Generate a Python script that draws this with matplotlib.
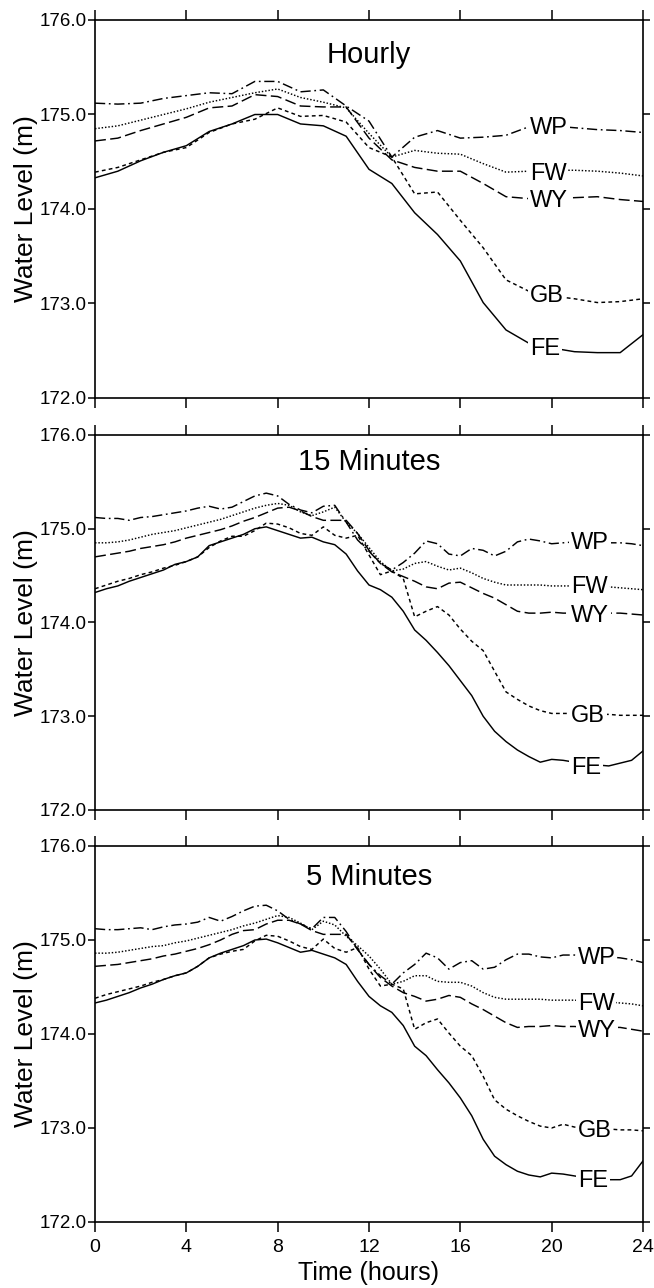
import numpy as np
import matplotlib
matplotlib.use("Agg")
import matplotlib.pyplot as plt

plt.rcParams['font.family'] = ['Liberation Sans', 'DejaVu Sans']

# ---------------- data ----------------
hours_hourly = list(range(0, 25))
fe_hourly = [174.33, 174.40, 174.51, 174.60, 174.67, 174.82, 174.90, 175.00, 175.00, 174.90,
             174.88, 174.77, 174.42, 174.27, 173.96, 173.73, 173.45, 173.01, 172.72, 172.58,
             172.53, 172.49, 172.48, 172.48, 172.67]
gb_hourly = [174.39, 174.44, 174.52, 174.60, 174.65, 174.81, 174.90, 174.95, 175.07, 174.98,
             174.99, 174.92, 174.65, 174.55, 174.16, 174.18, 173.88, 173.59, 173.25, 173.13,
             173.08, 173.05, 173.01, 173.02, 173.05]
wy_hourly = [174.72, 174.75, 174.83, 174.90, 174.97, 175.07, 175.09, 175.21, 175.19, 175.09,
             175.08, 175.08, 174.75, 174.52, 174.44, 174.40, 174.40, 174.27, 174.13, 174.11,
             174.11, 174.12, 174.13, 174.10, 174.08]
wp_hourly = [175.12, 175.11, 175.12, 175.17, 175.20, 175.23, 175.22, 175.35, 175.35, 175.24,
             175.26, 175.09, 174.93, 174.55, 174.76, 174.83, 174.75, 174.76, 174.78, 174.87,
             174.88, 174.86, 174.84, 174.83, 174.81]
fw_hourly = [174.85, 174.88, 174.94, 175.00, 175.06, 175.13, 175.18, 175.23, 175.27, 175.18,
             175.13, 175.07, 174.80, 174.55, 174.62, 174.59, 174.58, 174.48, 174.39, 174.40,
             174.41, 174.41, 174.40, 174.38, 174.35]

hours_half = [i * 0.5 for i in range(49)]

wp_15 = [175.12, 175.11, 175.11, 175.09, 175.12, 175.13, 175.15, 175.17, 175.19, 175.22,
         175.24, 175.21, 175.23, 175.29, 175.35, 175.38, 175.35, 175.26, 175.20, 175.17,
         175.24, 175.25, 175.07, 174.88, 174.76, 174.63, 174.56, 174.64, 174.74, 174.87,
         174.84, 174.73, 174.71, 174.79, 174.77, 174.71, 174.76, 174.86, 174.89, 174.87,
         174.84, 174.85, 174.86, 174.86, 174.86, 174.85, 174.85, 174.84, 174.82]
fw_15 = [174.85, 174.85, 174.86, 174.88, 174.91, 174.94, 174.96, 174.98, 175.01, 175.04,
         175.07, 175.10, 175.14, 175.18, 175.22, 175.25, 175.27, 175.25, 175.18, 175.14,
         175.18, 175.23, 175.07, 174.95, 174.80, 174.65, 174.55, 174.57, 174.63, 174.65,
         174.60, 174.56, 174.58, 174.53, 174.47, 174.43, 174.40, 174.40, 174.40, 174.40,
         174.39, 174.39, 174.39, 174.38, 174.38, 174.38, 174.37, 174.36, 174.35]
wy_15 = [174.70, 174.72, 174.74, 174.76, 174.79, 174.81, 174.83, 174.86, 174.90, 174.93,
         174.96, 174.99, 175.03, 175.08, 175.12, 175.17, 175.22, 175.23, 175.19, 175.13,
         175.09, 175.09, 175.09, 174.95, 174.77, 174.63, 174.54, 174.49, 174.44, 174.38,
         174.36, 174.42, 174.43, 174.37, 174.31, 174.26, 174.19, 174.12, 174.10, 174.10,
         174.11, 174.10, 174.10, 174.10, 174.10, 174.10, 174.10, 174.09, 174.08]
gb_15 = [174.36, 174.40, 174.44, 174.47, 174.51, 174.54, 174.58, 174.61, 174.65, 174.70,
         174.80, 174.87, 174.92, 174.92, 174.98, 175.06, 175.05, 175.01, 174.95, 174.93,
         175.02, 174.93, 174.90, 174.93, 174.72, 174.51, 174.55, 174.47, 174.06, 174.12,
         174.17, 174.08, 173.93, 173.80, 173.70, 173.48, 173.26, 173.18, 173.11, 173.06,
         173.03, 173.03, 173.03, 173.02, 173.02, 173.02, 173.01, 173.01, 173.01]
fe_15 = [174.32, 174.36, 174.39, 174.44, 174.48, 174.52, 174.56, 174.62, 174.65, 174.70,
         174.82, 174.86, 174.90, 174.94, 175.00, 175.02, 174.98, 174.94, 174.90, 174.91,
         174.86, 174.83, 174.73, 174.55, 174.40, 174.35, 174.27, 174.12, 173.92, 173.81,
         173.68, 173.54, 173.38, 173.22, 173.00, 172.84, 172.73, 172.64, 172.57, 172.51,
         172.54, 172.53, 172.51, 172.49, 172.48, 172.47, 172.50, 172.53, 172.63]

wp_5 = [175.12, 175.11, 175.11, 175.12, 175.13, 175.11, 175.14, 175.16, 175.17, 175.19,
        175.24, 175.20, 175.25, 175.31, 175.36, 175.37, 175.31, 175.22, 175.17, 175.12,
        175.24, 175.24, 175.09, 174.90, 174.74, 174.62, 174.53, 174.65, 174.74, 174.86,
        174.81, 174.69, 174.76, 174.78, 174.69, 174.71, 174.79, 174.85, 174.85, 174.82,
        174.81, 174.84, 174.84, 174.83, 174.83, 174.82, 174.81, 174.79, 174.76]
fw_5 = [174.86, 174.86, 174.87, 174.89, 174.91, 174.93, 174.94, 174.97, 174.99, 175.02,
        175.05, 175.08, 175.11, 175.15, 175.18, 175.22, 175.26, 175.24, 175.18, 175.11,
        175.20, 175.16, 175.04, 174.94, 174.83, 174.69, 174.53, 174.56, 174.62, 174.62,
        174.56, 174.55, 174.55, 174.51, 174.44, 174.39, 174.37, 174.37, 174.37, 174.37,
        174.36, 174.36, 174.36, 174.35, 174.35, 174.34, 174.33, 174.32, 174.30]
wy_5 = [174.72, 174.73, 174.74, 174.76, 174.78, 174.80, 174.83, 174.85, 174.88, 174.91,
        174.95, 175.00, 175.06, 175.10, 175.11, 175.17, 175.21, 175.21, 175.17, 175.10,
        175.06, 175.06, 175.06, 174.90, 174.74, 174.60, 174.51, 174.44, 174.40, 174.35,
        174.37, 174.41, 174.39, 174.32, 174.26, 174.19, 174.12, 174.07, 174.08, 174.08,
        174.09, 174.08, 174.08, 174.07, 174.07, 174.07, 174.07, 174.05, 174.03]
gb_5 = [174.38, 174.42, 174.45, 174.48, 174.51, 174.55, 174.58, 174.62, 174.65, 174.72,
        174.81, 174.85, 174.88, 174.90, 174.99, 175.05, 175.04, 174.99, 174.93, 174.90,
        175.01, 174.91, 174.87, 174.92, 174.69, 174.51, 174.53, 174.48, 174.05, 174.12,
        174.16, 174.01, 173.87, 173.77, 173.55, 173.30, 173.20, 173.13, 173.07, 173.02,
        173.00, 173.04, 173.01, 173.00, 172.99, 172.99, 172.98, 172.98, 172.97]
fe_5 = [174.33, 174.36, 174.40, 174.44, 174.49, 174.53, 174.58, 174.62, 174.65, 174.72,
        174.81, 174.86, 174.90, 174.94, 175.00, 175.01, 174.97, 174.92, 174.87, 174.89,
        174.85, 174.81, 174.74, 174.56, 174.40, 174.30, 174.23, 174.09, 173.87, 173.77,
        173.62, 173.48, 173.32, 173.13, 172.88, 172.70, 172.61, 172.54, 172.50, 172.48,
        172.52, 172.51, 172.49, 172.47, 172.46, 172.45, 172.45, 172.49, 172.65]

station_names = ['WP', 'FW', 'WY', 'GB', 'FE']
panel_titles = ['Hourly', '15 Minutes', '5 Minutes']
label_x = [19.05, 20.85, 21.15]
label_y = [[174.88, 174.40, 174.11, 173.11, 172.55],
           [174.87, 174.40, 174.10, 173.03, 172.48],
           [174.83, 174.35, 174.06, 172.99, 172.46]]
y_ticks = [172.0, 173.0, 174.0, 175.0, 176.0]
x_ticks = [0, 4, 8, 12, 16, 20, 24]

panels = [
    (hours_hourly, [wp_hourly, fw_hourly, wy_hourly, gb_hourly, fe_hourly]),
    (hours_half, [wp_15, fw_15, wy_15, gb_15, fe_15]),
    (hours_half, [wp_5, fw_5, wy_5, gb_5, fe_5]),
]

styles = {
    'WP': (0, (7, 2.5, 1.2, 2.5)),
    'FW': (0, (1, 1.3)),
    'WY': (0, (7.5, 3.0)),
    'GB': (0, (2.6, 2.2)),
    'FE': '-',
}

# ---------------- figure ----------------
W, H = 654, 1288
fig = plt.figure(figsize=(W / 100, H / 100), dpi=100)
fig.patch.set_facecolor('white')

left_px, right_px = 95, 643
tops = [20, 435, 846]
bottoms = [398, 810, 1222]

for i, (t, series) in enumerate(panels):
    ax = fig.add_axes([left_px / W, 1 - bottoms[i] / H,
                       (right_px - left_px) / W, (bottoms[i] - tops[i]) / H])
    for name, vals in zip(station_names, series):
        ax.plot(t, vals, color='black', lw=1.05, linestyle=styles[name],
                solid_joinstyle='round', dash_capstyle='butt')
    for name, ly in zip(station_names, label_y[i]):
        ax.text(label_x[i], ly, name, fontsize=17, ha='left', va='center_baseline',
                bbox=dict(facecolor='white', edgecolor='none', pad=1.2), zorder=5)
    ax.text(0.5, [0.907, 0.928, 0.917][i], panel_titles[i], transform=ax.transAxes,
            ha='center', va='center', fontsize=21)
    ax.set_xlim(0, 24)
    ax.set_ylim(172, 176)
    ax.set_xticks(x_ticks)
    ax.set_yticks(y_ticks)
    ax.set_yticklabels([f'{v:.1f}' for v in y_ticks])
    ax.tick_params(axis='x', which='both', direction='out', top=True, bottom=True,
                   length=7, width=1.1, labelsize=14, pad=5)
    ax.tick_params(axis='y', which='both', direction='out', left=True, right=True,
                   length=5, width=1.1, labelsize=13.5, pad=1)
    if i < 2:
        ax.set_xticklabels([])
    for sp in ax.spines.values():
        sp.set_linewidth(1.2)
    ax.text(-0.125, 0.5, 'Water Level (m)', transform=ax.transAxes, rotation=90,
            ha='center', va='center', fontsize=19)

fig.text((left_px + right_px) / 2 / W, 1 - 1273 / H, 'Time (hours)',
         ha='center', va='center', fontsize=18)

fig.savefig('out.png', dpi=100, facecolor='white')
